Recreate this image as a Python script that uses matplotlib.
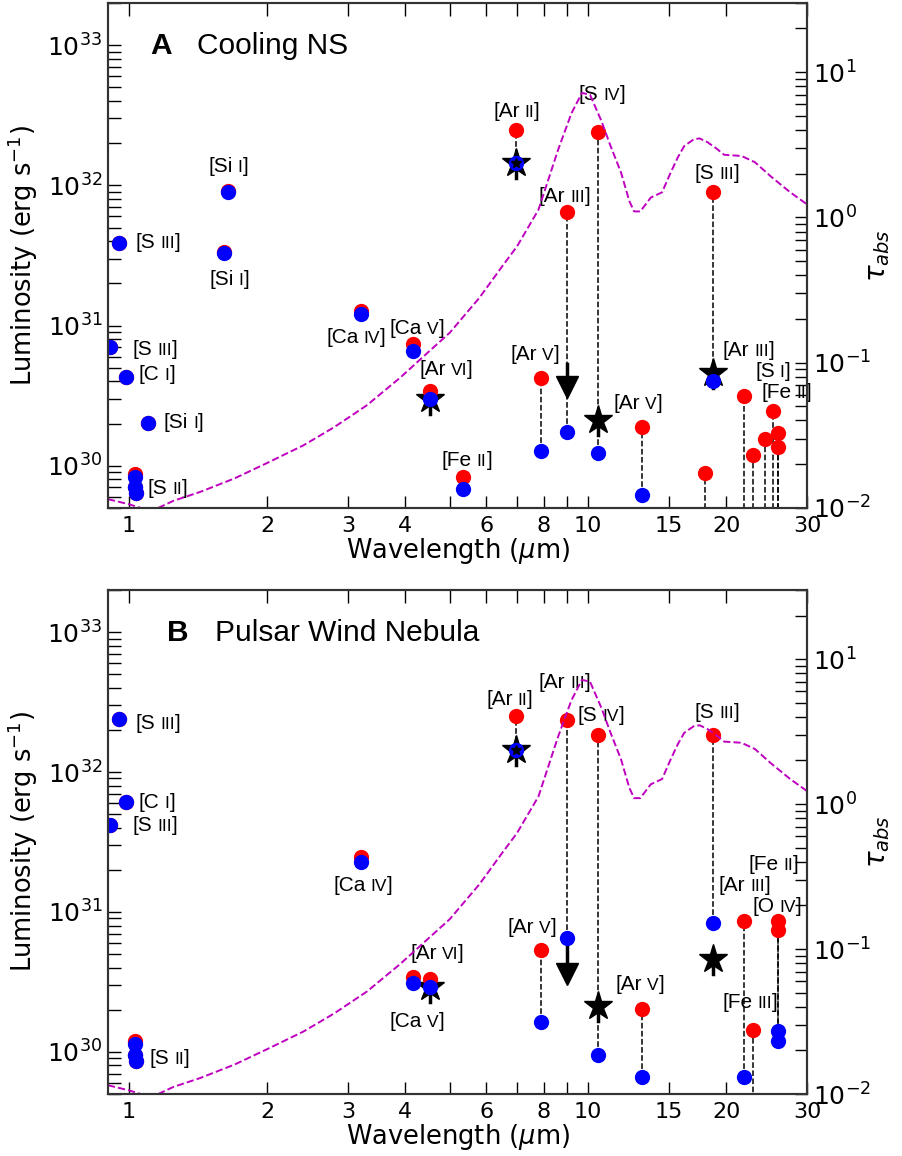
import matplotlib
matplotlib.use("Agg")
import matplotlib.pyplot as plt
import numpy as np
from matplotlib.offsetbox import TextArea, HPacker, AnnotationBbox
from matplotlib.ticker import NullLocator, NullFormatter, LogLocator

LAB_FONT = ["Liberation Sans", "DejaVu Sans"]

# absorption curve (right axis)
tau_lam = [0.9, 1.0, 1.06, 1.15, 1.25, 1.43, 1.7, 2.0, 2.4, 2.8, 3.3, 3.9, 4.55, 5.0,
           5.8, 6.5, 7.0, 7.8, 8.6, 9.2, 9.7, 10.1, 10.7, 11.2, 11.8, 12.3, 12.6, 13.0,
           13.7, 14.5, 15.1, 15.7, 16.2, 17.0, 17.5, 18.2, 19.0, 19.8, 21.6, 23.1, 25.0,
           27.5, 30.0]
tau_val = [0.0115, 0.0106, 0.0100, 0.0099, 0.0112, 0.0129, 0.016, 0.0204, 0.027, 0.036,
           0.051, 0.079, 0.123, 0.161, 0.28, 0.46, 0.63, 1.13, 2.9, 5.2, 7.2, 7.0, 4.6,
           3.1, 2.04, 1.3, 1.1, 1.1, 1.37, 1.49, 2.0, 2.6, 3.1, 3.45, 3.5, 3.3, 3.0, 2.7,
           2.65, 2.4, 1.92, 1.5, 1.23]

# panel A: cooling NS
a_lam = [0.907, 0.953, 0.985, 1.029, 1.032, 1.034, 1.099, 1.607, 1.645, 3.207, 4.16,
         4.53, 5.34, 6.985, 7.90, 8.99, 10.51, 13.10, 17.94, 18.71, 21.83, 22.93, 24.32,
         25.25, 25.89, 25.99]
a_red = [7.0e30, 3.9e31, 4.3e30, 8.8e29, 7.1e29, 6.4e29, 2.03e30, 3.35e31, 9.1e31, 1.26e31,
         7.4e30, 3.43e30, 8.3e29, 2.5e32, 4.2e30, 6.4e31, 2.39e32, 1.9e30, 8.9e29, 8.9e31,
         3.16e30, 1.2e30, 1.56e30, 2.47e30, 1.72e30, 1.37e30]
a_blue = [7.0e30, 3.9e31, 4.3e30, 8.3e29, 7.1e29, 6.4e29, 2.03e30, 3.27e31, 8.9e31, 1.2e31,
          6.6e30, 3.0e30, 6.85e29, 1.44e32, 1.28e30, 1.75e30, 1.24e30, 6.2e29, np.nan, 4.0e30,
          np.nan, np.nan, np.nan, np.nan, np.nan, np.nan]
a_star_lam = [4.53, 6.985, 10.51, 18.71]
a_star_lum = [3.0e30, 1.44e32, 2.13e30, 4.6e30]
a_arrow_lam = [8.99]
a_arrow_top = [5.3e30]
a_arrow_lum = [3.66e30]
a_labels = [("S", "III", 0.953, 3.9e31, 16, 0, "left"),
            ("Si", "I", 1.645, 9.1e31, 0, 25, "center"),
            ("Si", "I", 1.607, 3.35e31, 6, -28, "center"),
            ("S", "III", 0.907, 7.0e30, 23, -2, "left"),
            ("C", "I", 0.985, 4.3e30, 13, 2, "left"),
            ("Si", "I", 1.099, 2.03e30, 16, 0, "left"),
            ("S", "II", 1.029, 8.8e29, 13, -15, "left"),
            ("Ca", "IV", 3.207, 1.26e31, -5, -26, "center"),
            ("Ca", "V", 4.16, 7.4e30, 4, 15, "center"),
            ("Ar", "VI", 4.53, 3.43e30, 16, 21, "center"),
            ("Fe", "II", 5.34, 8.3e29, 4, 17, "center"),
            ("Ar", "II", 6.985, 2.5e32, 0, 18, "center"),
            ("Ar", "III", 8.99, 6.4e31, -2, 16, "center"),
            ("S", "IV", 10.51, 2.39e32, 4, 38, "center"),
            ("S", "III", 18.71, 8.9e31, 4, 19, "center"),
            ("Ar", "V", 7.90, 4.2e30, -6, 24, "center"),
            ("Ar", "V", 13.10, 1.9e30, -4, 23, "center"),
            ("Ar", "III", 21.83, 3.16e30, 5, 45, "center"),
            ("S", "I", 25.25, 2.47e30, 0, 39, "center"),
            ("Fe", "II", 25.89, 1.72e30, 9, 40, "center")]

# panel B: pulsar wind nebula
b_lam = [0.907, 0.953, 0.985, 1.029, 1.032, 1.034, 3.207, 4.16, 4.53, 6.985, 7.90, 8.99,
         10.51, 13.10, 18.71, 21.83, 22.93, 25.89, 25.99]
b_red = [4.2e31, 2.39e32, 6.1e31, 1.2e30, 0.95e30, 0.86e30, 2.47e31, 3.43e30, 3.3e30,
         2.5e32, 5.35e30, 2.35e32, 1.84e32, 2.03e30, 1.84e32, 8.6e30, 1.44e30, 8.6e30, 7.4e30]
b_blue = [4.2e31, 2.39e32, 6.1e31, 1.14e30, 0.95e30, 0.86e30, 2.28e31, 3.1e30, 2.9e30,
          1.44e32, 1.64e30, 6.5e30, 9.5e29, 6.6e29, 8.3e30, 6.6e29, np.nan, 1.41e30, 1.2e30]
b_star_lam = [4.53, 6.985, 10.51, 18.71]
b_star_lum = [2.9e30, 1.44e32, 2.13e30, 4.6e30]
b_arrow_lam = [8.99]
b_arrow_top = [6.1e30]
b_arrow_lum = [3.6e30]
b_labels = [("S", "III", 0.953, 2.39e32, 16, -4, "left"),
            ("C", "I", 0.985, 6.1e31, 13, 0, "left"),
            ("S", "III", 0.907, 4.2e31, 23, -1, "left"),
            ("Ca", "IV", 3.207, 2.47e31, 2, -28, "center"),
            ("S", "II", 1.029, 1.2e30, 15, -18, "left"),
            ("Ca", "V", 4.16, 3.43e30, 4, -44, "center"),
            ("Ar", "VI", 4.53, 3.3e30, 7, 26, "center"),
            ("Ar", "II", 6.985, 2.5e32, -7, 17, "center"),
            ("Ar", "III", 8.99, 2.35e32, -2, 38, "center"),
            ("S", "IV", 10.51, 1.84e32, 3, 20, "center"),
            ("S", "III", 18.71, 1.84e32, 4, 23, "center"),
            ("Fe", "II", 25.99, 8.6e30, -5, 57, "center"),
            ("Ar", "III", 21.83, 8.6e30, 1, 36, "center"),
            ("O", "IV", 25.89, 8.6e30, -1, 15, "center"),
            ("Fe", "III", 22.93, 1.44e30, -3, 27, "center"),
            ("Ar", "V", 7.90, 5.35e30, -9, 23, "center"),
            ("Ar", "V", 13.10, 2.03e30, -2, 24, "center")]

xticks = [1, 2, 3, 4, 5, 6, 7, 8, 9, 10, 15, 20, 30]
xticklabels = ["1", "2", "3", "4", "", "6", "", "8", "", "10", "15", "20", "30"]
YLIM = (5e29, 2e33)
TLIM = (0.01, 30)
PX = 0.72  # points per pixel at dpi 100


def line_label(ax, elem, ion, lam, lum, dx, dy, ha):
    big = dict(size=15, family=LAB_FONT, color="k")
    small = dict(size=12.5, family=LAB_FONT, color="k")
    tail = HPacker(children=[TextArea(ion, textprops=small), TextArea("]", textprops=big)],
                   align="baseline", pad=0, sep=0)
    box = HPacker(children=[TextArea("[" + elem, textprops=big), tail],
                  align="baseline", pad=0, sep=3.5)
    bx = 0.0 if ha == "left" else 0.5
    ab = AnnotationBbox(box, (lam, lum), xybox=(dx * PX, dy * PX), xycoords="data",
                        boxcoords="offset points", frameon=False, pad=0,
                        box_alignment=(bx, 0.5), annotation_clip=False)
    ax.add_artist(ab)


def panel(ax, lam, red, blue, star_lam, star_lum, arr_lam, arr_top, arr_lum, labels,
          letter, title, letter_x, title_x):
    ax.set_xscale("log")
    ax.set_yscale("log")
    ax.set_xlim(0.9, 30)
    ax.set_ylim(*YLIM)

    lam = np.array(lam)
    red = np.array(red)
    blue = np.array(blue)
    low = np.where(np.isnan(blue), 1e29, blue)
    ax.vlines(lam, low, red, colors="k", linestyles="--", linewidth=1.1, zorder=1)

    # upper limits
    for x, lo in zip(star_lam, star_lum):
        ax.plot([x, x], [lo, lo * 0.78], color="k", lw=2.5, zorder=2)
    ax.plot(star_lam, star_lum, "k*", ms=21, zorder=2)
    for x, top, lo in zip(arr_lam, arr_top, arr_lum):
        ax.plot([x, x], [top, lo], color="k", lw=2.5, zorder=2)
    ax.plot(arr_lam, arr_lum, "kv", ms=16.5, zorder=2)

    ax.plot(lam, red, "o", color="red", ms=11, mew=0, zorder=3)
    ax.plot(lam, blue, "o", color="blue", ms=11, mew=0, zorder=4)
    ax.plot([star_lam[1]], [star_lum[1]], "k*", ms=7, zorder=5)

    for elem, ion, x, y, dx, dy, ha in labels:
        line_label(ax, elem, ion, x, y, dx, dy, ha)

    ax.xaxis.set_major_locator(plt.FixedLocator(xticks))
    ax.xaxis.set_major_formatter(plt.FixedFormatter(xticklabels))
    ax.xaxis.set_minor_locator(NullLocator())
    ax.yaxis.set_minor_locator(LogLocator(subs=np.arange(2, 10), numticks=20))
    ax.yaxis.set_minor_formatter(NullFormatter())
    ax.tick_params(axis="x", which="both", direction="in", top=True, bottom=True,
                   length=9, width=1, labelsize=16, pad=6)
    ax.tick_params(axis="y", which="both", direction="in", left=True, right=False,
                   length=9, width=1, labelsize=18, pad=4)
    for s in ax.spines.values():
        s.set_linewidth(1.5)
        s.set_color("0.2")

    ax.set_xlabel(r"Wavelength ($\mu$m)", fontsize=18.5, labelpad=0)
    ax.set_ylabel(r"Luminosity (erg s$^{-1}$)", fontsize=18.5)
    ax.yaxis.set_label_coords(-0.097, 0.5)

    ax.text(letter_x, 0.899, letter, transform=ax.transAxes, fontsize=21.5,
            fontweight="bold", family=LAB_FONT, va="baseline")
    ax.text(title_x, 0.899, title, transform=ax.transAxes, fontsize=21.5,
            family=LAB_FONT, va="baseline")

    tx = ax.twinx()
    tx.set_yscale("log")
    tx.set_ylim(*TLIM)
    tx.plot(tau_lam, tau_val, "m--", lw=1.4)
    tx.yaxis.set_minor_locator(LogLocator(subs=np.arange(2, 10), numticks=20))
    tx.yaxis.set_minor_formatter(NullFormatter())
    tx.tick_params(axis="y", which="both", direction="in", length=9, width=1,
                   labelsize=18, pad=4)
    for s in tx.spines.values():
        s.set_linewidth(1.5)
        s.set_color("0.2")
    tx.set_ylabel(r"$\tau_{abs}$", fontsize=20)
    tx.yaxis.set_label_coords(1.082, 0.5)


fig = plt.figure(figsize=(9.02, 11.56), dpi=100)
ax_a = fig.add_axes([0.1197, 0.5606, 0.775, 0.4369])
ax_b = fig.add_axes([0.1197, 0.0536, 0.775, 0.436])

panel(ax_a, a_lam, a_red, a_blue, a_star_lam, a_star_lum, a_arrow_lam, a_arrow_top,
      a_arrow_lum, a_labels, "A", "Cooling NS", 0.060, 0.127)
panel(ax_b, b_lam, b_red, b_blue, b_star_lam, b_star_lum, b_arrow_lam, b_arrow_top,
      b_arrow_lum, b_labels, "B", "Pulsar Wind Nebula", 0.084, 0.153)

fig.savefig("out.png", dpi=100)
